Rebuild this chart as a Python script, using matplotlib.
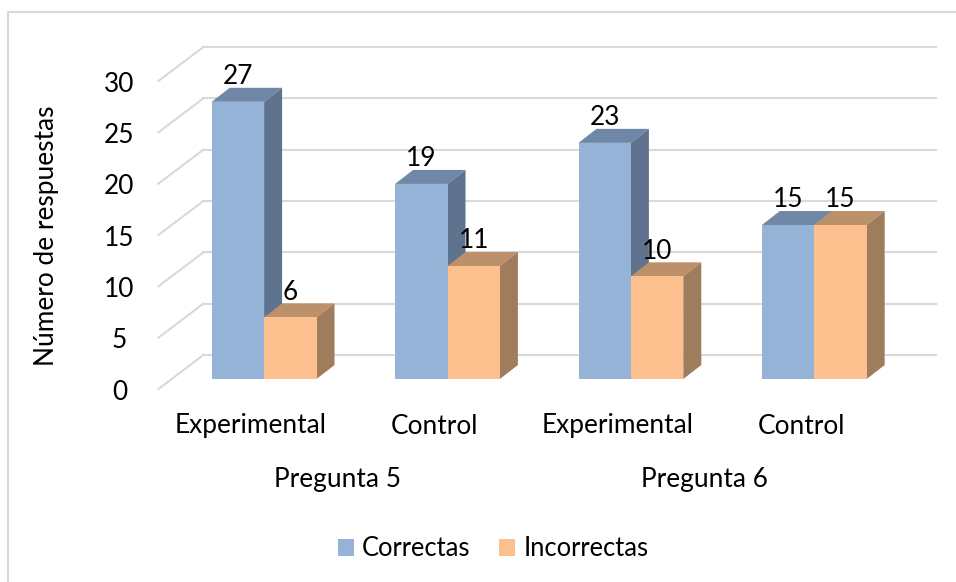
import matplotlib
matplotlib.use('Agg')
import matplotlib.pyplot as plt
from matplotlib.lines import Line2D
from matplotlib.patches import Polygon

plt.rcParams['font.family'] = ['Lato', 'DejaVu Sans']

groups = ['Pregunta 5', 'Pregunta 6']
categories = ['Experimental', 'Control', 'Experimental', 'Control']
correctas = [27, 19, 23, 15]
incorrectas = [6, 11, 10, 15]
y_ticks = [0, 5, 10, 15, 20, 25, 30]

FS = 18.9
W, H = 956, 582

fig = plt.figure(figsize=(W / 100, H / 100), dpi=100)
# axes = the plane of the bar fronts, everything else hangs off it
left, right, top, bottom = 172.4, 906, 71, 379
ax = fig.add_axes([left / W, (H - bottom) / H, (right - left) / W, (bottom - top) / H])
ax.set_xlim(-0.5, 3.5)
ax.set_ylim(0, 30)
ax.axis('off')

ux = 4 / (right - left)   # data per pixel
uy = 30 / (bottom - top)
bar_w = 52.4 * ux


def add_depth(x0, value, face_top, face_side, z):
    dx, dy = 18 * ux, 14 * uy
    x1 = x0 + bar_w
    ax.add_patch(Polygon([(x0, value), (x1, value), (x1 + dx, value + dy), (x0 + dx, value + dy)],
                         fc=face_top, ec='none', clip_on=False, zorder=z))
    ax.add_patch(Polygon([(x1, 0), (x1 + dx, dy), (x1 + dx, value + dy), (x1, value)],
                         fc=face_side, ec='none', clip_on=False, zorder=z))


# grid: back wall and side wall
for v in y_ticks:
    bx = -0.5 + 31 * ux
    by = v + 24 * uy
    ax.plot([bx, 3.5 + 29.5 * ux], [by, by], color='#d9d9d9', lw=1.5, clip_on=False, zorder=1)
    ax.plot([-0.5 - 14 * ux, bx], [v - 10 * uy, by], color='#d9d9d9', lw=1.5, clip_on=False, zorder=1)

xs = list(range(len(categories)))
z = 2
for i in xs:
    b1 = ax.bar(i - bar_w / 2, correctas[i], bar_w, color='#95b3d7', clip_on=False, zorder=z + 1,
                label='Correctas' if i == 0 else None)
    add_depth(i - bar_w, correctas[i], '#7088a8', '#5f738e', z)
    b2 = ax.bar(i + bar_w / 2, incorrectas[i], bar_w, color='#fbc08e', clip_on=False, zorder=z + 3,
                label='Incorrectas' if i == 0 else None)
    add_depth(i, incorrectas[i], '#bc9069', '#9f7d5c', z + 2)
    ax.bar_label(b1, padding=9.2, fontsize=FS, color='black', zorder=20)
    ax.bar_label(b2, padding=9.2, fontsize=FS, color='black', zorder=20)
    ax.annotate(categories[i], (i, 0), xytext=(-13, -47), textcoords='offset pixels',
                ha='center', va='center', fontsize=FS, color='#000000', annotation_clip=False)

for j, g in enumerate(groups):
    ax.annotate(g, (j * 2 + 0.5, 0), xytext=(-18, -101), textcoords='offset pixels',
                ha='center', va='center', fontsize=FS, color='#000000', annotation_clip=False)

for v in y_ticks:
    ax.annotate(str(v), (-0.5, v), xytext=(-53, -13), textcoords='offset pixels',
                ha='center', va='center', fontsize=FS, color='#000000', annotation_clip=False)

fig.text(47 / W, 1 - 236 / H, 'Número de respuestas', rotation=90, ha='center', va='center',
         fontsize=FS, color='#000000')

ax.legend(loc='center', bbox_to_anchor=(493 / W, 1 - 549 / H), bbox_transform=fig.transFigure,
          ncol=2, frameon=False, fontsize=18.4, handlelength=0.63, handleheight=0.63,
          handletextpad=0.3, columnspacing=1.15, borderpad=0)

# outer chart frame, runs off the top right and bottom of the image
fig.add_artist(Line2D([8 / W, 8 / W, 1], [0, 1 - 12 / H, 1 - 12 / H], color='#d9d9d9', lw=1.5))

fig.savefig('out.png', dpi=100)
